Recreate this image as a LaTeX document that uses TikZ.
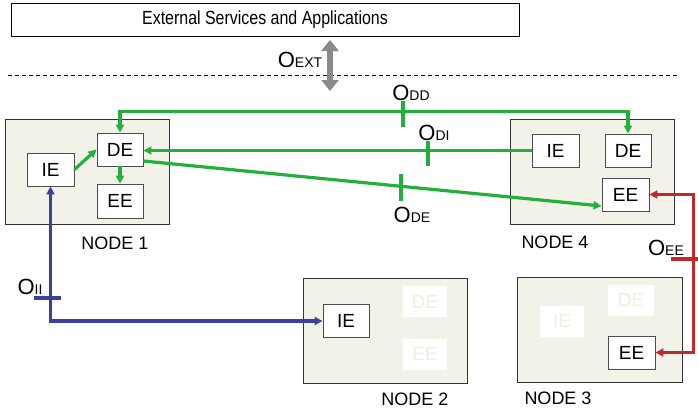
\documentclass[tikz,border=0pt]{standalone}
\usepackage{fontspec}
\setmainfont{Liberation Sans}
\newfontfamily\narrowsans[FakeStretch=0.84]{Liberation Sans}
\usetikzlibrary{arrows.meta}
\definecolor{nodefill}{HTML}{F2F2E8}
\definecolor{gline}{HTML}{22B03C}
\definecolor{bline}{HTML}{3C3FA0}
\definecolor{rline}{HTML}{C0282A}
\definecolor{fadetext}{HTML}{EEEEE2}
\definecolor{extgray}{HTML}{8A8A8A}
\tikzset{
  hostbox/.style={draw=black!80, fill=nodefill, line width=0.9pt, minimum width=164pt, minimum height=105pt, inner sep=0pt},
  engine/.style={draw=black!70, fill=white, line width=0.9pt, minimum width=46pt, minimum height=33pt, inner sep=0pt, font=\fontsize{19}{19}\selectfont},
  ghost/.style={fill=white, minimum width=44pt, minimum height=31pt, inner sep=0pt, text=fadetext, font=\fontsize{19}{19}\selectfont},
  hostlabel/.style={font=\fontsize{18}{18}\selectfont, inner sep=0pt},
  olabel/.style={inner sep=0pt},
  tip/.style={-{Triangle[length=8pt,width=8pt]}},
  twotips/.style={{Triangle[length=8pt,width=8pt]}-{Triangle[length=8pt,width=8pt]}},
  gconn/.style={gline, line width=3.2pt},
  bconn/.style={bline, line width=3.2pt},
  rconn/.style={rline, line width=3.2pt},
}
\newcommand{\olab}[1]{{\fontsize{22}{22}\selectfont O}{\fontsize{14}{14}\selectfont #1}}
\begin{document}
\begin{tikzpicture}[x=1pt,y=-1pt]
\useasboundingbox (0,0) rectangle (698,413);

% external layer
\node[draw=black, line width=0.9pt, minimum width=508pt, minimum height=33pt, inner sep=0pt,
      font=\narrowsans\fontsize{19}{19}\selectfont] (ext) at (265,19.5) {External Services and Applications};
\coordinate (dashL) at (8,75);
\coordinate (dashR) at (677,75);
\draw[line width=0.9pt, dash pattern=on 4pt off 3pt] (dashL) -- (dashR);
\coordinate (extTop) at (330,40);
\coordinate (extBot) at (330,91);
\draw[extgray, line width=6pt, {Triangle[length=11pt,width=17pt]}-{Triangle[length=11pt,width=17pt]}] (extTop) -- (extBot);
\node[olabel] (oext) at (300,60) {\olab{EXT}};

% hosts
\node[hostbox] (n1) at (87,171.5) {};
\node[hostbox] (n4) at (592,171.5) {};
\node[hostbox] (n2) at (385,330.5) {};
\node[hostbox, minimum width=165pt] (n3) at (599.5,329.5) {};

\node[hostlabel] (l1) at (115,243) {NODE 1};
\node[hostlabel] (l4) at (555,242) {NODE 4};
\node[hostlabel] (l2) at (415,399) {NODE 2};
\node[hostlabel] (l3) at (558,398) {NODE 3};

% engines
\node[engine, minimum width=47pt] (ie1) at (50.5,169.5) {IE};
\node[engine] (de1) at (120,149.5) {DE};
\node[engine, minimum height=34pt] (ee1) at (120,201) {EE};
\node[engine, minimum width=47pt] (ie4) at (555.5,150.5) {IE};
\node[engine] (de4) at (628,150.5) {DE};
\node[engine, minimum width=47pt] (ee4) at (625.5,194.5) {EE};
\node[engine] (ie2) at (346,321) {IE};
\node[ghost] (de2) at (425,301.5) {DE};
\node[ghost] (ee2) at (425,354) {EE};
\node[ghost] (ie3) at (562,321) {IE};
\node[ghost, minimum width=46pt] (de3) at (631,300) {DE};
\node[engine, minimum width=47pt] (ee3) at (631.5,352.5) {EE};

% local links in node 1
\draw[gconn, tip] (ie1.east) -- (de1.west);
\draw[gconn, tip] (de1.south) -- (ee1.north);

% DE-DE link
\draw[gconn, twotips] (de1.north) -- ++(0,-21) -| (de4.north);
\coordinate (tddA) at (403,101);
\coordinate (tddB) at (403,127);
\draw[gconn] (tddA) -- (tddB);
\node[olabel] (odd) at (411,93) {\olab{DD}};

% IE-DE link
\draw[gconn, tip] (ie4.west) -- (ie4.west -| de1.east);
\coordinate (tdiA) at (428,141);
\coordinate (tdiB) at (428,166);
\draw[gconn] (tdiA) -- (tdiB);
\node[olabel] (odi) at (434,133) {\olab{DI}};

% DE-EE link
\draw[gconn, tip] ([yshift=-11.5pt]de1.east) -- ([yshift=-11.5pt]ee4.west);
\coordinate (tdeA) at (401,174);
\coordinate (tdeB) at (401,201);
\draw[gconn] (tdeA) -- (tdeB);
\node[olabel] (ode) at (412,215) {\olab{DE}};

% IE-IE link
\draw[bconn, twotips] (ie1.south) |- (ie2.west);
\coordinate (tiiA) at (34,298);
\coordinate (tiiB) at (61,298);
\draw[bconn] (tiiA) -- (tiiB);
\node[olabel] (oii) at (30,287) {\olab{II}};

% EE-EE link
\draw[rconn, twotips] (ee4.east) -- ++(44,0) |- (ee3.east);
\coordinate (teeA) at (671,259);
\coordinate (teeB) at (698,259);
\draw[rconn] (teeA) -- (teeB);
\node[olabel] (oee) at (666,248) {\olab{EE}};
\end{tikzpicture}
\end{document}
